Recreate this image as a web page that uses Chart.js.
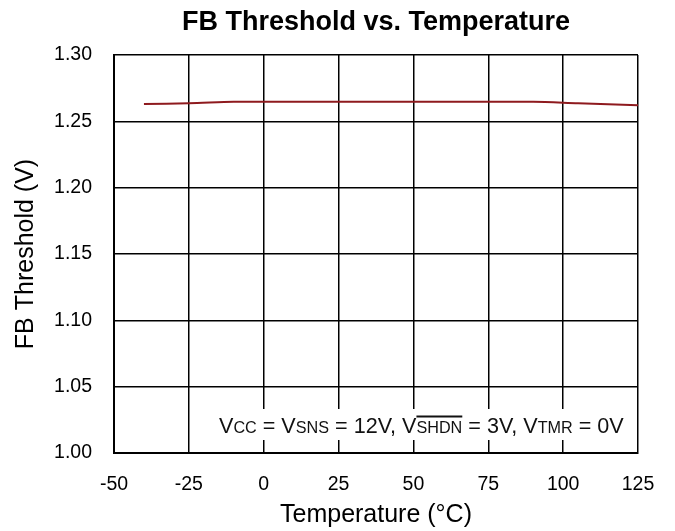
<!DOCTYPE html>
<html><head><meta charset="utf-8">
<script src="https://cdn.jsdelivr.net/npm/chart.js@4.4.1/dist/chart.umd.min.js"></script>
<style>html,body{margin:0;padding:0;background:#fff;}canvas{display:block;}</style>
</head><body>
<canvas id="c" width="675" height="531"></canvas>
<script>
const chartTitle = 'FB Threshold vs. Temperature';
const xAxisTitle = 'Temperature (°C)';
const yAxisTitle = 'FB Threshold (V)';
const temperatures = [-40, -25, -10, 0, 25, 50, 75, 90, 105, 125];
const fbThreshold = [1.2630, 1.2636, 1.2647, 1.2648, 1.2648, 1.2648, 1.2648, 1.2647, 1.2636, 1.2622];
const xTickValues = [-50, -25, 0, 25, 50, 75, 100, 125];
const yTickValues = [1.00, 1.05, 1.10, 1.15, 1.20, 1.25, 1.30];
const conditionParts = [
  ['V', 0], ['CC', 1], [' = V', 0], ['SNS', 1], [' = 12V, V', 0], ['SHDN', 2], [' = 3V, V', 0], ['TMR', 1], [' = 0V', 0]
];

const FONT = '"Liberation Sans", Arial, sans-serif';

const titlePlugin = {
  id: 'topTitle',
  afterDraw(chart) {
    const ctx = chart.ctx, a = chart.chartArea;
    ctx.save();
    ctx.font = 'bold 27px ' + FONT;
    ctx.fillStyle = '#000';
    ctx.textAlign = 'center';
    ctx.textBaseline = 'alphabetic';
    ctx.fillText(chartTitle, (a.left + a.right) / 2, 30);
    ctx.restore();
  }
};

const conditionPlugin = {
  id: 'conditionNote',
  beforeDatasetsDraw(chart) {
    const ctx = chart.ctx, a = chart.chartArea;
    ctx.save();
    // fit the note to the span seen in the reference
    const baseBig = 20, baseSmall = 15;
    let total = 0;
    conditionParts.forEach(([t, k]) => {
      ctx.font = (k ? baseSmall : baseBig) + 'px ' + FONT;
      total += ctx.measureText(t).width;
    });
    const s = 405 / total;
    const big = baseBig * s, small = baseSmall * s;
    const widths = conditionParts.map(([t, k]) => {
      ctx.font = (k ? small : big) + 'px ' + FONT;
      return ctx.measureText(t).width;
    });
    const right = a.right - 14;
    const x0 = right - 405;
    const base = 432.5;
    ctx.fillStyle = '#fff';
    ctx.fillRect(x0 - 12, 409, a.right - 2 - (x0 - 12), 31);
    ctx.fillStyle = '#111';
    ctx.strokeStyle = '#111';
    ctx.textBaseline = 'alphabetic';
    ctx.textAlign = 'left';
    let x = x0;
    conditionParts.forEach(([t, k], i) => {
      ctx.font = (k ? small : big) + 'px ' + FONT;
      ctx.fillText(t, x, base);
      if (k === 2) {
        ctx.lineWidth = 1.8;
        ctx.beginPath();
        ctx.moveTo(x, base - 16);
        ctx.lineTo(x + widths[i], base - 16);
        ctx.stroke();
      }
      x += widths[i];
    });
    ctx.restore();
  }
};

new Chart(document.getElementById('c'), {
  type: 'line',
  data: {
    datasets: [{
      data: temperatures.map((t, i) => ({ x: t, y: fbThreshold[i] })),
      borderColor: '#8e1a1e',
      borderWidth: 2,
      pointRadius: 0,
      tension: 0.3,
      fill: false
    }]
  },
  options: {
    responsive: false,
    animation: false,
    devicePixelRatio: 1,
    layout: { padding: { top: 55, right: 37, left: 0, bottom: 0 } },
    plugins: { legend: { display: false }, title: { display: false }, tooltip: { enabled: false } },
    scales: {
      x: {
        type: 'linear',
        min: -50, max: 125,
        afterBuildTicks(s) { s.ticks = xTickValues.map(v => ({ value: v })); },
        afterFit(s) { s.height = 78; },
        grid: { color: '#000', lineWidth: 1.5, drawTicks: false },
        border: { color: '#000', width: 2 },
        ticks: { color: '#000', font: { family: FONT, size: 19.5 }, padding: 20, maxRotation: 0, callback: v => String(v) },
        title: { display: true, text: xAxisTitle, color: '#000', font: { family: FONT, size: 25 }, padding: { top: 0, bottom: 1 } }
      },
      y: {
        min: 1.0, max: 1.3,
        afterBuildTicks(s) { s.ticks = yTickValues.map(v => ({ value: v })); },
        afterFit(s) { s.width = 114; },
        grid: { color: '#000', lineWidth: 1.5, drawTicks: false },
        border: { color: '#000', width: 2 },
        ticks: { color: '#000', font: { family: FONT, size: 19.5 }, padding: 22, callback: v => Number(v).toFixed(2) },
        title: { display: true, text: yAxisTitle, color: '#000', font: { family: FONT, size: 25 }, padding: { top: 11, bottom: 0 } }
      }
    }
  },
  plugins: [titlePlugin, conditionPlugin]
});
</script>
</body></html>
